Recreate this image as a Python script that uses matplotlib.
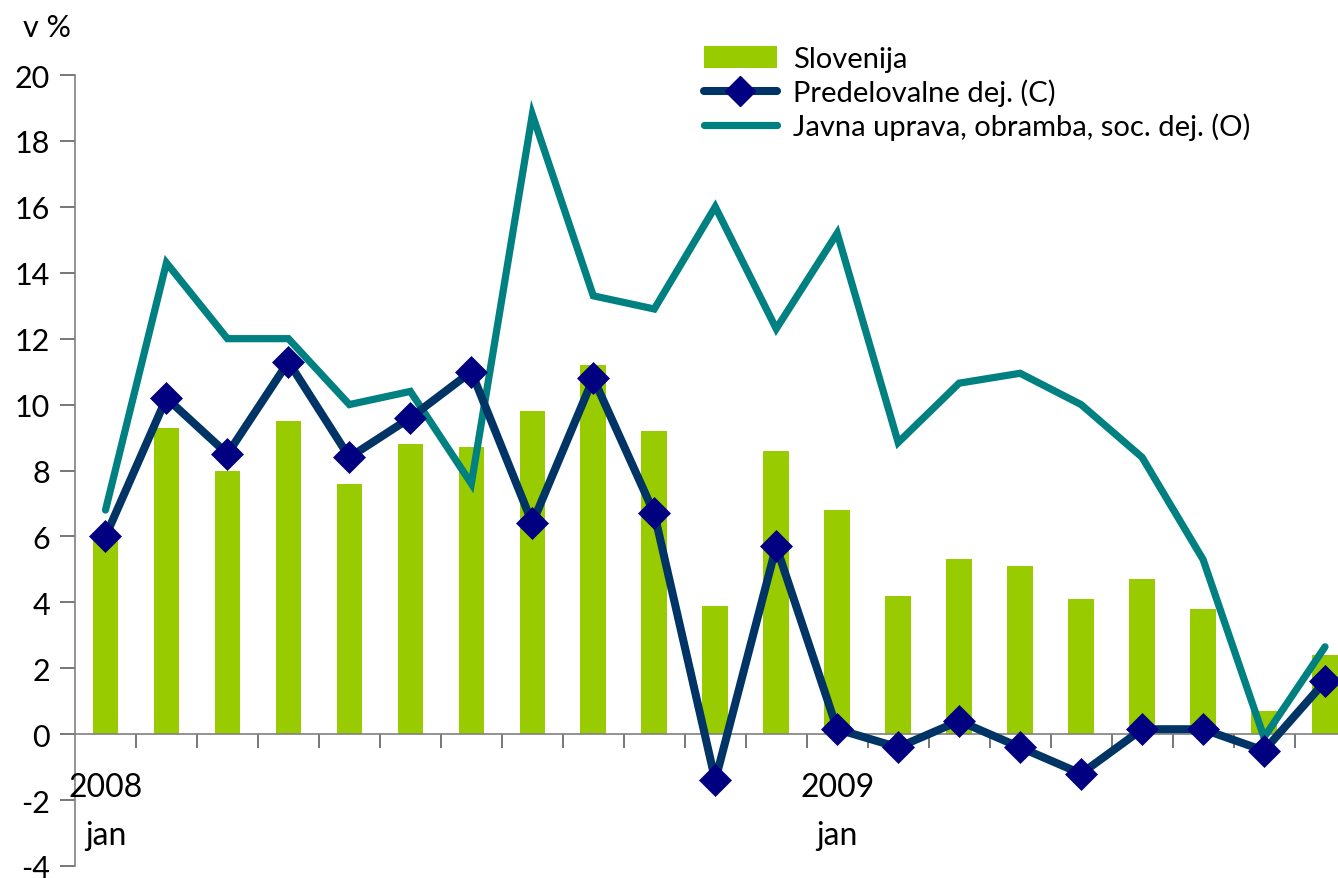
import matplotlib
matplotlib.use("Agg")
import matplotlib.pyplot as plt
from matplotlib.lines import Line2D
from matplotlib.patches import Patch
import numpy as np

plt.rcParams['font.family'] = ['Lato', 'DejaVu Sans']

months = ["jan", "feb", "mar", "apr", "maj", "jun", "jul", "avg", "sep", "okt", "nov", "dec",
          "jan", "feb", "mar", "apr", "maj", "jun", "jul", "avg", "sep"]
slovenija = [6.0, 9.3, 8.0, 9.5, 7.6, 8.8, 8.7, 9.8, 11.2, 9.2, 3.9, 8.6,
             6.8, 4.2, 5.3, 5.1, 4.1, 4.7, 3.8, 0.7, 2.4]
predelovalne = [6.0, 10.2, 8.5, 11.3, 8.4, 9.6, 11.0, 6.4, 10.8, 6.7, -1.4, 5.7,
                0.15, -0.4, 0.4, -0.4, -1.2, 0.15, 0.15, -0.5, 1.6]
javna = [6.8, 14.3, 12.0, 12.0, 10.0, 10.4, 7.6, 18.8, 13.3, 12.9, 16.0, 12.3,
         15.2, 8.85, 10.65, 10.95, 10.0, 8.4, 5.3, -0.1, 2.65]
year_labels = {0: "2008", 12: "2009"}
yticks = list(range(-4, 21, 2))

fig = plt.figure(figsize=(13.38, 8.79), dpi=100)
ax = fig.add_axes([75/1338, 12/879, 1280.5/1338, 791/879])

x = np.arange(len(slovenija))
ax.bar(x, slovenija, width=0.42, color="#99CC00", zorder=1)
ax.plot(x, javna, color="#008080", lw=5.2, solid_capstyle='round', solid_joinstyle='miter', zorder=3)
ax.plot(x, predelovalne, color="#003366", lw=5.8, marker="D", markersize=16.5,
        markerfacecolor="#000080", markeredgecolor="#000080", markeredgewidth=0.5,
        solid_capstyle='round', zorder=4)

ax.set_xlim(-0.5, len(x) - 0.5)
ax.set_ylim(-4, 20)
ax.set_yticks(yticks)
ax.set_yticklabels([str(v) for v in yticks], fontsize=22)
ax.tick_params(axis='y', direction='out', length=11, width=1.2, color="#606060", pad=7)
ax.set_xticks(np.arange(len(x)) + 0.5)
ax.set_xticklabels([])
ax.tick_params(axis='x', direction='out', length=10, width=1.2, color="#606060")

for s in ["top", "right"]:
    ax.spines[s].set_visible(False)
ax.spines["bottom"].set_position(("data", 0))
ax.spines["bottom"].set_color("#808080")
ax.spines["left"].set_color("#808080")
ax.spines["bottom"].set_linewidth(1.2)
ax.spines["left"].set_linewidth(1.2)

for i, yr in year_labels.items():
    ax.text(i, -1.6, yr, ha="center", va="center", fontsize=23)
    ax.text(i, -3.05, months[i], ha="center", va="center", fontsize=23)

fig.text(47/1338, 1 - 28/879, "v %", ha="center", va="center", fontsize=22)

handles = [Patch(facecolor="#99CC00", edgecolor="none"),
           Line2D([], [], color="#003366", lw=5.8, marker="D", markersize=15,
                  markerfacecolor="#000080", markeredgecolor="#000080", solid_capstyle='round'),
           Line2D([], [], color="#008080", lw=5.2, solid_capstyle='round')]
labels = ["Slovenija", "Predelovalne dej. (C)", "Javna uprava, obramba, soc. dej. (O)"]
fig.legend(handles, labels, loc="upper left", bbox_to_anchor=(704/1338, 1 - 47/879),
           frameon=False, fontsize=21, handlelength=2.5, handleheight=0.8,
           handletextpad=0.55, labelspacing=0.22, borderaxespad=0, borderpad=0)

fig.savefig("out.png", dpi=100)
